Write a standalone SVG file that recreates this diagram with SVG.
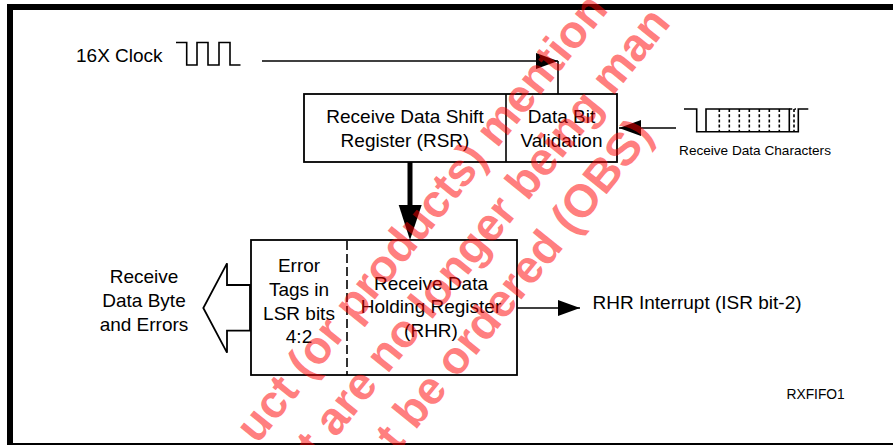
<svg xmlns="http://www.w3.org/2000/svg" width="893" height="445" viewBox="0 0 893 445">
<defs>
<style>
text{font-family:"Liberation Sans",Arial,sans-serif;fill:#000}
.t{font-size:19px}
.c{text-anchor:middle}
.s{font-size:13.6px}
.box{fill:#fff;stroke:#000;stroke-width:1.8}
.ln{fill:none;stroke:#000;stroke-width:1.6}
.head{fill:#000;stroke:none}
.wm{font-family:"Liberation Sans",Arial,sans-serif;font-weight:bold;font-size:46px;fill:#ff0000;fill-opacity:0.52}
</style>
<marker id="ah" markerUnits="userSpaceOnUse" viewBox="0 0 22 16" markerWidth="22" markerHeight="16" refX="22" refY="8" orient="auto">
<path d="M0,0 L22,8 L0,16 z" fill="#000"/>
</marker>
</defs>
<rect width="893" height="445" fill="#fff"/>
<rect x="10" y="7" width="900" height="439" fill="none" stroke="#000" stroke-width="6"/>

<g id="clock">
<text class="t" x="76" y="62">16X Clock</text>
<path class="ln" d="M176,42.5 H186.7 V65 H197 V42.5 H208 V65 H219 V42.5 H230 V65 H240.5"/>
</g>

<g id="rsr">
<rect class="box" x="304" y="94" width="313" height="68"/>
<line class="ln" x1="506" y1="94" x2="506" y2="162" stroke-width="1.8"/>
<text class="t c" x="405" y="122.5">Receive Data Shift</text>
<text class="t c" x="405" y="146.5">Register (RSR)</text>
<text class="t c" x="561.5" y="122.5">Data Bit</text>
<text class="t c" x="561.5" y="146.5">Validation</text>
</g>

<g id="rxchars">
<path class="ln" d="M684,109 H696.7 V131.7 H789.3 M706,131.7 V109 H789.3 V131.7 M789.3,131.7 H798.3 V109 H808.3" stroke-width="1.5"/>
<path class="ln" d="M719.3,109 V131.7 M729.3,109 V131.7 M739.3,109 V131.7 M749.3,109 V131.7 M759.3,109 V131.7 M769.3,109 V131.7 M779.3,109 V131.7 M794,109 V131.7 M789.3,109 H796" stroke-width="1.2" stroke-dasharray="3,2.2"/>
<text class="s c" x="755" y="155">Receive Data Characters</text>
</g>

<g id="rhr">
<rect class="box" x="251" y="240" width="266" height="135"/>
<line class="ln" x1="347" y1="241" x2="347" y2="375" stroke-dasharray="9,4"/>
<text class="t c" x="299" y="272">Error</text>
<text class="t c" x="299" y="296">Tags in</text>
<text class="t c" x="299" y="319.5">LSR bits</text>
<text class="t c" x="299" y="343">4:2</text>
<text class="t c" x="431" y="289.5">Receive Data</text>
<text class="t c" x="431" y="313">Holding Register</text>
<text class="t c" x="431" y="337">(RHR)</text>
</g>

<g id="output">
<text class="t c" x="144" y="283">Receive</text>
<text class="t c" x="144" y="307">Data Byte</text>
<text class="t c" x="144" y="331">and Errors</text>
</g>

<g id="interrupt">
<text class="t" x="592.5" y="308.5">RHR Interrupt (ISR bit-2)</text>
</g>

<g id="label">
<text class="s" x="786.5" y="399" style="font-size:13.8px">RXFIFO1</text>
</g>

<g id="connectors">
<path class="ln" d="M262,61 H558" marker-end="url(#ah)"/>
<path class="ln" d="M558,61 V94"/>
<path class="ln" d="M676,128 H619" marker-end="url(#ah)"/>
<path class="ln" d="M517,308 H580" marker-end="url(#ah)"/>
<line x1="410" y1="162" x2="410" y2="210" stroke="#000" stroke-width="5"/>
<polygon class="head" points="398.7,205 421.7,205 410,240"/>
<polygon fill="#fff" stroke="#000" stroke-width="1.8" stroke-linejoin="miter" points="250,285 227,285 227,263.3 203.3,308 227,352.7 227,330.7 250,330.7"/>
</g>

<g id="watermark">
<text class="wm" transform="translate(257.3,444.9) rotate(-51)">uct (or products) mention</text>
<text class="wm" transform="translate(318.1,460.3) rotate(-51)">t are no longer being man</text>
<text class="wm" transform="translate(397.3,452.9) rotate(-51)">t be ordered (OBS)</text>
</g>
</svg>
